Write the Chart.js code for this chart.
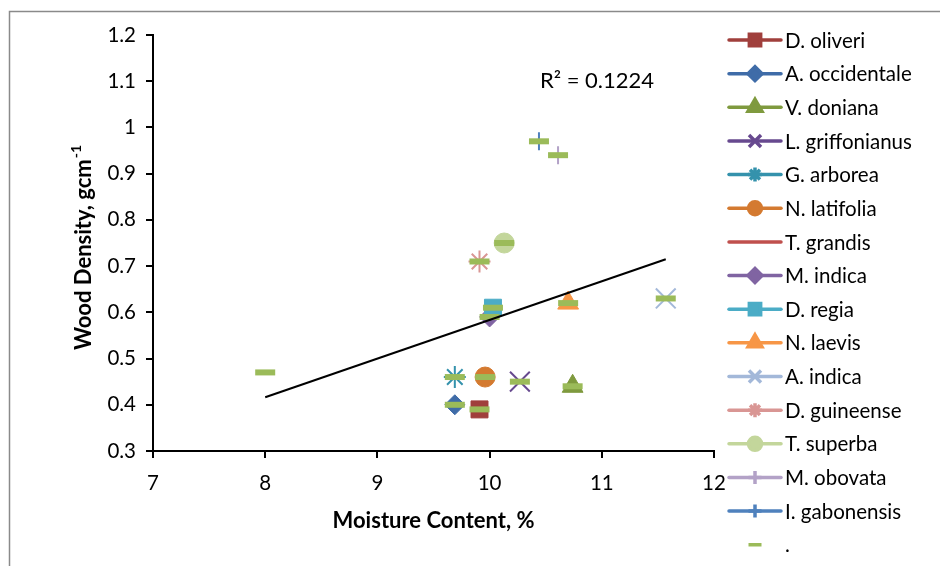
<!DOCTYPE html>
<html>
<head>
<meta charset="utf-8">
<script src="https://cdn.jsdelivr.net/npm/chart.js@4.4.0/dist/chart.umd.min.js"></script>
<style>
  html, body { margin: 0; padding: 0; background: #fff; }
  canvas { display: block; }
</style>
</head>
<body>
<canvas id="chart" width="940" height="566"></canvas>
<script>
'use strict';

// species measured, one point each
const species = ['D. oliveri', 'A. occidentale', 'V. doniana', 'L. griffonianus', 'G. arborea',
  'N. latifolia', 'T. grandis', 'M. indica', 'D. regia', 'N. laevis', 'A. indica',
  'D. guineense', 'T. superba', 'M. obovata', 'I. gabonensis'];
const moisture = [9.91, 9.69, 10.74, 10.27, 9.69, 9.96, 8.0, 10.0, 10.03, 10.7, 11.57, 9.91, 10.13, 10.61, 10.44];
const density = [0.39, 0.40, 0.44, 0.45, 0.46, 0.46, 0.47, 0.59, 0.61, 0.62, 0.63, 0.71, 0.75, 0.94, 0.97];
const xTicks = [7, 8, 9, 10, 11, 12];
const yTicks = [0.3, 0.4, 0.5, 0.6, 0.7, 0.8, 0.9, 1, 1.1, 1.2];
const rSquaredText = 'R\u00B2 = 0.1224';

// styles
const colors = ['#A03F3C', '#3F6CA8', '#7F9A3E', '#67498F', '#3492AC', '#D47A30', '#C0504D',
  '#8064A2', '#4BACC6', '#F79646', '#A3B8D9', '#D99694', '#C3D69B', '#B3A2C7', '#4F81BD'];
const markers = ['rect', 'rectRot', 'triangle', 'crossRot', 'star', 'circle', false,
  'rectRot', 'rect', 'triangle', 'crossRot', 'star', 'circle', 'cross', 'cross'];
const markerSize = { rect: 12, rectRot: 10, triangle: 12, crossRot: 14, star: 11, circle: 10, cross: 9 };
const legendSize = { rect: 8, rectRot: 7, triangle: 8, crossRot: 8.5, star: 7, circle: 6.5, cross: 6.5 };
const dotColor = '#9BBB59';
const FONT = 'Lato, "Open Sans", sans-serif';

function regression(xs, ys) {
    const n = xs.length;
    const mx = xs.reduce((a, b) => a + b, 0) / n;
    const my = ys.reduce((a, b) => a + b, 0) / n;
    let sxy = 0, sxx = 0;
    for (let i = 0; i < n; i++) {
        sxy += (xs[i] - mx) * (ys[i] - my);
        sxx += (xs[i] - mx) * (xs[i] - mx);
    }
    const slope = sxy / sxx;
    return { slope: slope, icpt: my - slope * mx };
}

const fit = regression(moisture, density);
const xMin = Math.min(...moisture);
const xMax = Math.max(...moisture);

const isStroke = m => m === 'crossRot' || m === 'star' || m === 'cross';

const datasets = species.map((name, i) => ({
    label: name,
    data: moisture.map((x, j) => j === i ? { x: x, y: density[j] } : null).filter(p => p),
    pointStyle: markers[i] || 'circle',
    pointRadius: markers[i] ? markerSize[markers[i]] : 0,
    pointHoverRadius: markers[i] ? markerSize[markers[i]] : 0,
    backgroundColor: colors[i],
    borderColor: colors[i],
    pointBorderWidth: isStroke(markers[i]) ? 2 : 1,
    showLine: false,
    order: 100 - i
}));

datasets.push({
    label: '.',
    data: moisture.map((x, j) => ({ x: x, y: density[j] })),
    pointStyle: 'line',
    pointRadius: 10,
    pointHoverRadius: 10,
    pointBorderWidth: 6,
    borderColor: dotColor,
    backgroundColor: dotColor,
    showLine: false,
    order: 1
});

datasets.push({
    label: 'trend',
    type: 'line',
    data: [{ x: xMin, y: fit.icpt + fit.slope * xMin }, { x: xMax, y: fit.icpt + fit.slope * xMax }],
    borderColor: '#000',
    borderWidth: 2,
    pointRadius: 0,
    showLine: true,
    order: 0
});

const decorations = {
    id: 'decorations',
    beforeDraw(chart) {
        const ctx = chart.ctx;
        ctx.save();
        ctx.fillStyle = '#fff';
        ctx.fillRect(0, 0, chart.width, chart.height);
        ctx.strokeStyle = '#8a8a8a';
        ctx.lineWidth = 1.5;
        ctx.beginPath();
        ctx.moveTo(9.5, chart.height);
        ctx.lineTo(9.5, 11.5);
        ctx.lineTo(chart.width, 11.5);
        ctx.stroke();
        ctx.restore();
    },
    afterDraw(chart) {
        const ctx = chart.ctx;
        const area = chart.chartArea;
        ctx.save();

        // y title with superscript
        ctx.translate(84, 248);
        ctx.rotate(-Math.PI / 2);
        ctx.fillStyle = '#000';
        ctx.textBaseline = 'middle';
        const mainTxt = 'Wood Density, gcm';
        const supTxt = '-1';
        ctx.font = 'bold 22px ' + FONT;
        const w1 = ctx.measureText(mainTxt).width;
        ctx.font = 'bold 14px ' + FONT;
        const w2 = ctx.measureText(supTxt).width;
        const x0 = -(w1 + w2) / 2;
        ctx.font = 'bold 22px ' + FONT;
        ctx.fillText(mainTxt, x0, 0);
        ctx.font = 'bold 14px ' + FONT;
        ctx.fillText(supTxt, x0 + w1 + 1, -8);
        ctx.restore();

        // x title
        ctx.save();
        ctx.font = 'bold 22px ' + FONT;
        ctx.fillStyle = '#000';
        ctx.textAlign = 'center';
        ctx.textBaseline = 'middle';
        ctx.fillText('Moisture Content, %', (area.left + area.right) / 2, 521);

        // R squared
        ctx.font = '22px ' + FONT;
        ctx.fillText(rSquaredText, 597, 81);
        ctx.restore();

        // legend
        ctx.save();
        const y0 = 40, dy = 33.65;
        const names = species.concat(['.']);
        names.forEach((name, i) => {
            const y = y0 + i * dy;
            const col = i < species.length ? colors[i] : dotColor;
            ctx.strokeStyle = col;
            ctx.fillStyle = col;
            if (i < species.length) {
                ctx.lineWidth = 3.5;
                ctx.lineCap = 'round';
                ctx.beginPath();
                ctx.moveTo(729, y);
                ctx.lineTo(781, y);
                ctx.stroke();
                ctx.lineCap = 'butt';
                const m = markers[i];
                if (m) {
                    Chart.helpers.drawPoint(ctx, {
                        pointStyle: m, rotation: 0, radius: legendSize[m],
                        borderWidth: isStroke(m) ? 1.5 : 1
                    }, 755, y);
                }
            } else {
                Chart.helpers.drawPoint(ctx, { pointStyle: 'line', rotation: 0, radius: 6.5, borderWidth: 4 }, 755, y);
            }
            ctx.fillStyle = '#000';
            ctx.font = '20.5px ' + FONT;
            ctx.textBaseline = 'middle';
            ctx.textAlign = 'left';
            ctx.fillText(name, 785, y + 1);
        });
        ctx.restore();
    }
};

new Chart(document.getElementById('chart'), {
    type: 'scatter',
    data: { datasets: datasets },
    options: {
        responsive: false,
        animation: false,
        layout: { padding: { left: 0, top: 35, right: 226, bottom: 0 } },
        plugins: {
            legend: { display: false },
            tooltip: { enabled: false }
        },
        scales: {
            x: {
                type: 'linear',
                min: xTicks[0],
                max: xTicks[xTicks.length - 1],
                afterFit(scale) { scale.height = 115; },
                afterBuildTicks(scale) { scale.ticks = xTicks.map(v => ({ value: v })); },
                ticks: {
                    color: '#000',
                    font: { size: 20.5, family: FONT },
                    padding: 13,
                    callback: v => String(v)
                },
                grid: { drawOnChartArea: false, drawTicks: true, tickLength: 7, color: '#000', lineWidth: 2 },
                border: { display: true, color: '#000', width: 2 }
            },
            y: {
                type: 'linear',
                min: yTicks[0],
                max: yTicks[yTicks.length - 1],
                afterFit(scale) { scale.width = 153; },
                afterBuildTicks(scale) { scale.ticks = yTicks.map(v => ({ value: v })); },
                ticks: {
                    color: '#000',
                    font: { size: 20.5, family: FONT },
                    padding: 10,
                    callback: v => String(Math.round(v * 10) / 10)
                },
                grid: { drawOnChartArea: false, drawTicks: true, tickLength: 7, color: '#000', lineWidth: 2 },
                border: { display: true, color: '#000', width: 2 }
            }
        }
    },
    plugins: [decorations]
});
</script>
</body>
</html>
